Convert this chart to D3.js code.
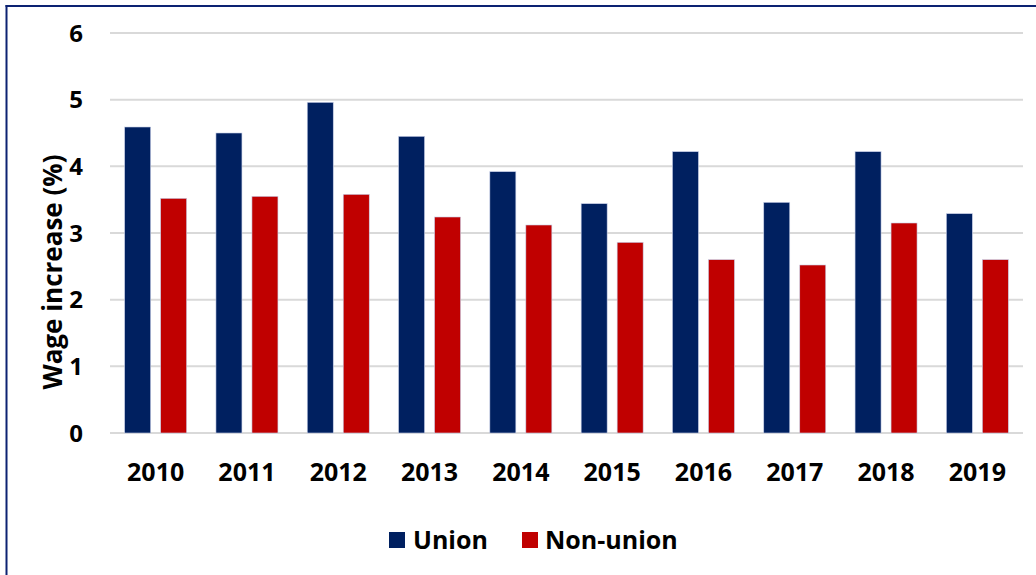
<!DOCTYPE html>
<html><head><meta charset="utf-8">
<script src="https://cdn.jsdelivr.net/npm/d3@7"></script>
<style>body{margin:0;background:#fff}svg{display:block}</style>
</head><body><svg id="c" width="1036" height="575"></svg>
<script>
const years = ["2010","2011","2012","2013","2014","2015","2016","2017","2018","2019"];
const unionVals = [4.59,4.50,4.96,4.45,3.92,3.44,4.22,3.46,4.22,3.29];
const nonUnionVals = [3.52,3.55,3.58,3.24,3.12,2.86,2.60,2.52,3.15,2.60];
const yTicks = [0,1,2,3,4,5,6];
const seriesNames = ["Union","Non-union"];
const colors = ["#002060","#C00000"];

const svg = d3.select("#c");
const font = "'Open Sans', sans-serif";
// frame
svg.append("line").attr("x1",6.5).attr("x2",6.5).attr("y1",5).attr("y2",575).attr("stroke","#0c2272").attr("stroke-width",2);
svg.append("line").attr("x1",5.5).attr("x2",1036).attr("y1",6).attr("y2",6).attr("stroke","#0c2272").attr("stroke-width",2);

const x0 = d3.scaleBand().domain(years).range([110,1023]).paddingInner(0).paddingOuter(0);
const y = d3.scaleLinear().domain([0,6]).range([433,33]);

const g = svg.append("g");
g.selectAll("line.grid").data(yTicks).join("line")
  .attr("x1",110).attr("x2",1023).attr("y1",d=>y(d)).attr("y2",d=>y(d))
  .attr("stroke","#d9d9d9").attr("stroke-width",2);

const barW = 26, gap = 10;
const rows = years.map((yr,i)=>({yr, vals:[unionVals[i], nonUnionVals[i]]}));
rows.forEach(r=>{
  const start = x0(r.yr) + (x0.bandwidth() - (2*barW+gap))/2;
  r.vals.forEach((v,k)=>{
    g.append("rect").attr("x", start + k*(barW+gap)).attr("width",barW)
     .attr("y", y(v)).attr("height", y(0)-y(v)).attr("fill",colors[k])
     .attr("stroke","#c8d0e8").attr("stroke-width",0.6);
  });
});

// y tick labels
g.selectAll("text.yt").data(yTicks).join("text")
  .attr("x",83).attr("y",d=>y(d)).attr("dy","0.36em").attr("text-anchor","end")
  .attr("font-family",font).attr("font-weight",700).attr("font-size",24).attr("fill","#000")
  .text(d=>d);
// x labels
g.selectAll("text.xt").data(years).join("text")
  .attr("x",d=>x0(d)+x0.bandwidth()/2).attr("y",481).attr("text-anchor","middle")
  .attr("font-family",font).attr("font-weight",700).attr("font-size",25).attr("fill","#000")
  .text(d=>d);
// y axis title
svg.append("text").attr("transform","translate(62,272) rotate(-90)").attr("text-anchor","middle")
  .attr("font-family",font).attr("font-weight",700).attr("font-size",26).attr("fill","#000")
  .text("Wage increase (%)");
// legend
const leg = [{x:389,tx:413},{x:522,tx:545}];
seriesNames.forEach((n,k)=>{
  svg.append("rect").attr("x",leg[k].x).attr("y",532).attr("width",16).attr("height",16).attr("fill",colors[k]);
  svg.append("text").attr("x",leg[k].tx).attr("y",548.5).attr("font-family",font).attr("font-weight",700)
    .attr("font-size",25).attr("fill","#000").text(n);
});
</script></body></html>
